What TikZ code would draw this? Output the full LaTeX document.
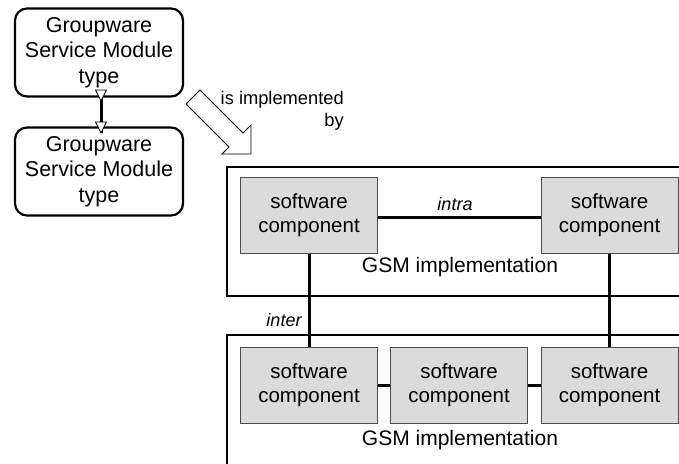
\documentclass[tikz,border=0pt]{standalone}
\usepackage{fontspec}
\setmainfont{Liberation Sans}
\usetikzlibrary{arrows.meta}
\begin{document}
\begin{tikzpicture}[x=1pt,y=-1pt,
  typebox/.style={draw, line width=2.2pt, rounded corners=12pt, minimum width=168pt, minimum height=88pt, align=center, font=\fontsize{21.5}{25.5}\selectfont, inner sep=0pt},
  comp/.style={draw=black!70, line width=1pt, fill=black!14, minimum width=137pt, minimum height=76pt, align=center, font=\fontsize{20.5}{24.5}\selectfont, inner sep=0pt},
  frame/.style={line width=2.5pt},
  conn/.style={line width=3pt},
  lbl/.style={inner sep=0pt, font=\fontsize{21}{25}\selectfont},
  ital/.style={inner sep=0pt, font=\fontsize{18}{22}\selectfont\itshape}
]
\useasboundingbox (0,0) rectangle (679,463);
% type boxes
\node[typebox] (A) at (99,52.5) {Groupware\\Service Module\\type};
\node[typebox] (B) at (99,171.5) {Groupware\\Service Module\\type};
\coordinate (a1) at (101,90);
\coordinate (b1) at (101,133);
\draw[conn] (a1) -- (b1);
\draw[line width=0.8pt, fill=white] (95.5,90) -- (106.5,90) -- (101,101) -- cycle;
\draw[line width=0.8pt, fill=white] (95.5,122) -- (106.5,122) -- (101,133) -- cycle;
% hollow arrow
\draw[line width=0.9pt, fill=white] (200,90) -- (243,133) -- (251,125) -- (251,154) -- (222,154) -- (229,147) -- (186,104) -- cycle;
\node[inner sep=0pt, font=\fontsize{18.3}{22}\selectfont, align=right, anchor=north east] (impl) at (344,91) {is implemented\\by};
% frames
\draw[frame] (690,167) -- (227,167) -- (227,296) -- (690,296);
\draw[frame] (690,335) -- (227,335) -- (227,470);
\node[lbl] (g1) at (460,267) {GSM implementation};
\node[lbl] (g2) at (460,440) {GSM implementation};
% components
\node[comp] (c1) at (309,215) {software\\component};
\node[comp] (c2) at (609.5,215) {software\\component};
\node[comp] (c3) at (309,385) {software\\component};
\node[comp] (c4) at (459,385) {software\\component};
\node[comp] (c5) at (609.5,385) {software\\component};
% connectors
\draw[conn] ([yshift=-2pt]c1.east) -- ([yshift=-2pt]c2.west);
\draw[conn] (c1.south) -- (c3.north);
\draw[conn] (c2.south) -- (c5.north);
\draw[conn] (c3.east) -- (c4.west);
\draw[conn] (c4.east) -- (c5.west);
\node[ital] (intra) at (455,204) {intra};
\node[ital] (inter) at (284,320) {inter};
\end{tikzpicture}
\end{document}
